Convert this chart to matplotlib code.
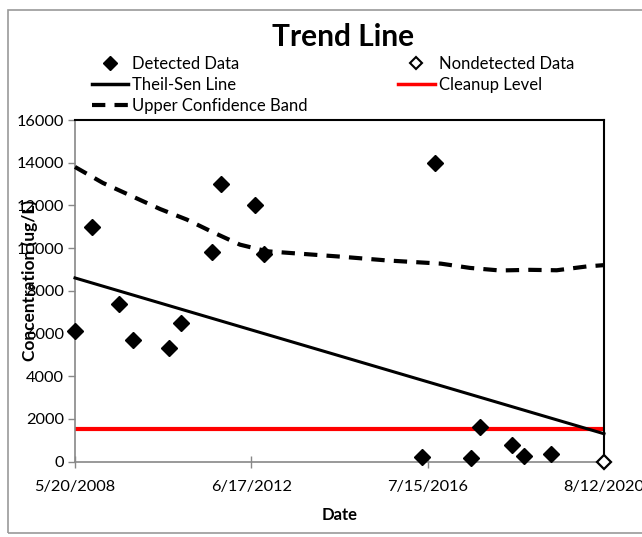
import matplotlib
matplotlib.use("Agg")
import matplotlib.pyplot as plt
from matplotlib.lines import Line2D
from matplotlib.patches import Rectangle
import datetime as dt

plt.rcParams['font.family'] = ['Lato', 'DejaVu Sans']

# Detected concentrations (ug/L)
detected_dates = ["2008-05-20", "2008-10-08", "2009-05-29", "2009-09-24", "2010-07-23",
                  "2010-11-01", "2011-07-18", "2011-10-07", "2012-07-16", "2012-10-02",
                  "2016-05-25", "2016-09-14", "2017-07-20", "2017-09-28", "2018-06-28",
                  "2018-10-05", "2019-05-21"]
detected_values = [6100, 11000, 7400, 5700, 5300, 6500, 9800, 13000, 12000, 9700,
                   200, 14000, 150, 1600, 760, 260, 340]

# Nondetected results
nondetected_dates = ["2020-08-12"]
nondetected_values = [0]

# Theil-Sen trend line end points
theil_dates = ["2008-05-20", "2020-08-12"]
theil_values = [8600, 1300]

# Upper confidence band
ucb_dates = ["2008-05-20", "2009-01-11", "2009-09-13", "2010-05-08", "2010-12-22",
             "2011-07-29", "2012-03-13", "2012-10-27", "2013-05-10", "2014-07-05",
             "2015-08-06", "2016-11-04", "2017-07-07", "2018-03-17", "2018-11-24",
             "2019-07-10", "2020-03-21", "2020-08-12"]
ucb_values = [13800, 13050, 12430, 11830, 11330, 10740, 10160, 9850, 9770, 9600,
              9420, 9270, 9070, 8950, 8980, 8960, 9140, 9200]

cleanup_level = 1500

x_tick_dates = ["2008-05-20", "2012-06-17", "2016-07-15", "2020-08-12"]
x_tick_labels = ["5/20/2008", "6/17/2012", "7/15/2016", "8/12/2020"]
y_ticks = [0, 2000, 4000, 6000, 8000, 10000, 12000, 14000, 16000]


def to_dates(seq):
    return [dt.datetime.strptime(s, "%Y-%m-%d") for s in seq]


W, H = 642, 537
fig = plt.figure(figsize=(W / 100, H / 100), dpi=100)

# outer chart frame
fig.patches.append(Rectangle((8 / W, 1 - 533 / H), 700 / W, (533 - 10) / H,
                             transform=fig.transFigure, fill=False,
                             edgecolor="#9a9a9a", linewidth=1.2))

ax = fig.add_axes([75 / W, (H - 461.5) / H, (604 - 75) / W, (461.5 - 120) / H])

xd = to_dates(x_tick_dates)
ax.set_xlim(xd[0], xd[-1])
ax.set_ylim(0, 16000)

ax.plot(to_dates(ucb_dates), ucb_values, color="black", linewidth=3,
        linestyle=(0, (3.2, 2.2)), clip_on=False, zorder=3)
ax.plot(to_dates(theil_dates), theil_values, color="black", linewidth=2.2,
        clip_on=False, zorder=3)
ax.axhline(cleanup_level, color="#ff0000", linewidth=3, zorder=2)
ax.plot(to_dates(detected_dates), detected_values, linestyle="none", marker="D",
        markersize=8.5, color="black", clip_on=False, zorder=4)
ax.plot(to_dates(nondetected_dates), nondetected_values, linestyle="none", marker="D",
        markersize=7.5, markerfacecolor="white", markeredgecolor="black",
        markeredgewidth=1.6, clip_on=False, zorder=5)

ax.set_xticks(xd)
ax.set_xticklabels(x_tick_labels)
ax.set_yticks(y_ticks)
ax.set_yticklabels([str(v) for v in y_ticks])
ax.tick_params(axis="both", labelsize=11.8, colors="#888888", labelcolor="black",
               length=5, width=1)
ax.tick_params(axis="x", direction="inout", length=8, pad=9)
ax.tick_params(axis="y", direction="out", pad=3)

for side in ("left", "bottom"):
    ax.spines[side].set_color("#888888")
    ax.spines[side].set_linewidth(1.2)
for side in ("top", "right"):
    ax.spines[side].set_color("black")
    ax.spines[side].set_linewidth(1.5)

ax.set_xlabel("Date", fontsize=12, fontweight="bold", labelpad=10)
fig.text(30 / W, 1 - 280 / H, "Concentration (ug/L)", rotation=90, fontsize=12.5,
         fontweight="bold", ha="center", va="center")

fig.text(343 / W, 1 - 37 / H, "Trend Line", fontsize=21.5, fontweight="bold",
         ha="center", va="center")

handles = [
    Line2D([], [], linestyle="none", marker="D", markersize=7, color="black"),
    Line2D([], [], color="black", linewidth=2.5),
    Line2D([], [], color="black", linewidth=3, linestyle=(0, (3.2, 2.2))),
    Line2D([], [], linestyle="none", marker="D", markersize=6, markerfacecolor="white",
           markeredgecolor="black", markeredgewidth=1.5),
    Line2D([], [], color="#ff0000", linewidth=2.5),
]
labels = ["Detected Data", "Theil-Sen Line", "Upper Confidence Band",
          "Nondetected Data", "Cleanup Level"]
fig.legend(handles, labels, ncol=2, loc="upper left",
           bbox_to_anchor=(85 / W, 1 - 49 / H), frameon=False, fontsize=12,
           handlelength=2.2, handletextpad=0.25, columnspacing=5.4,
           labelspacing=0.3, borderaxespad=0)

fig.savefig("out.png", dpi=100)
